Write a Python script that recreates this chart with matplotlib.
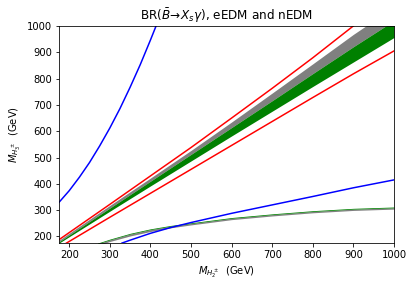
import numpy as np
import matplotlib
matplotlib.use('Agg')
import matplotlib.pyplot as plt

# values (GeV)
# upper diagonal band: gray on top, green below
band_x = [175, 300, 400, 500, 600, 700, 800, 900, 1000]
gray_top = [186, 318, 422, 527, 635, 745, 856, 968, 1072]
gray_green = [180, 308, 410, 512, 614, 716, 819, 921, 1020]
green_bot = [175, 296, 392, 487, 582, 676, 770, 863, 956]

# lower band: thin green strip on a gray strip
low_x = [270, 300, 350, 400, 450, 500, 600, 700, 800, 900, 1000]
low_green_top = [175, 190, 212, 229, 242, 252, 272, 286, 298, 307, 312]
low_mid = [172, 187, 209, 226, 239, 249, 269, 283, 295, 304, 309]
low_gray_bot = [165, 181, 202, 219, 233, 244, 264, 278, 290, 299, 304]

# red lines
red_up_x = [175, 300, 400, 500, 600, 700, 800, 900]
red_up_y = [188, 322, 430, 538, 650, 763, 879, 1000]
red_lo_x = [190, 300, 400, 500, 600, 700, 800, 900, 1000]
red_lo_y = [172, 273, 364, 455, 546, 637, 728, 818, 905]

# blue curves
blue_up_x = [175, 200, 225, 250, 275, 300, 325, 350, 375, 400, 414]
blue_up_y = [330, 374, 425, 481, 544, 612, 686, 767, 853, 946, 1000]
blue_lo_x = [330, 350, 400, 450, 500, 600, 700, 800, 900, 1000]
blue_lo_y = [175, 186, 212, 234, 253, 288, 320, 352, 385, 415]

fig = plt.figure(figsize=(413 / 72, 288 / 72), dpi=72)
ax = fig.add_axes([0.143, 0.156, 0.811, 0.754])

ax.fill_between(band_x, gray_green, gray_top, color='gray', lw=0)
ax.fill_between(band_x, green_bot, gray_green, color='green', lw=0)
ax.fill_between(low_x, low_gray_bot, low_mid, color='gray', lw=0)
ax.fill_between(low_x, low_mid, low_green_top, color='green', lw=0)

ax.plot(red_up_x, red_up_y, color='red', lw=1.5)
ax.plot(red_lo_x, red_lo_y, color='red', lw=1.5)
ax.plot(blue_up_x, blue_up_y, color='blue', lw=1.5)
ax.plot(blue_lo_x, blue_lo_y, color='blue', lw=1.5)

ax.set_xlim(175, 1000)
ax.set_ylim(175, 1000)
ax.set_xticks(np.arange(200, 1001, 100))
ax.set_yticks(np.arange(200, 1001, 100))
ax.set_title(r'BR($\bar{B}\!\to\! X_s\gamma$), eEDM and nEDM')
ax.set_xlabel(r'$M_{H_2^\pm}$  (GeV)')
ax.set_ylabel(r'$M_{H_3^\pm}$  (GeV)')

fig.savefig('out.png', dpi=72)
